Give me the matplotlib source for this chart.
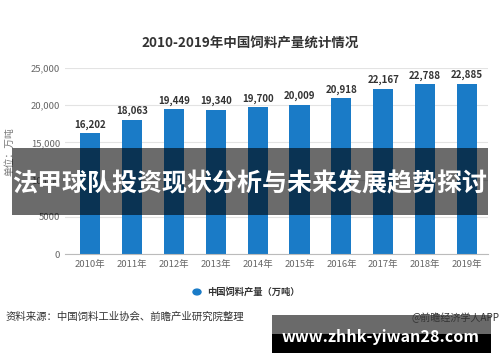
import matplotlib
matplotlib.use("Agg")
import matplotlib.pyplot as plt
from matplotlib.patches import Rectangle
from matplotlib.ticker import FuncFormatter

plt.rcParams["font.family"] = ["Noto Sans CJK SC", "DejaVu Sans"]

years = ["2010年", "2011年", "2012年", "2013年", "2014年",
         "2015年", "2016年", "2017年", "2018年", "2019年"]
output = [16202, 18063, 19449, 19340, 19700, 20009, 20918, 22167, 22788, 22885]
yticks = [0, 5000, 10000, 15000, 20000, 25000]

BAR = "#1a7bc7"
W, H = 500, 362

fig = plt.figure(figsize=(5, 3.62), dpi=100)
fig.patch.set_facecolor("white")

ax = fig.add_axes([65 / W, 1 - 254 / H, (488 - 65) / W, (254 - 68) / H])
x = list(range(len(years)))
bars = ax.bar(x, output, width=0.48, color=BAR, zorder=2)
for b, v in zip(bars, output):
    ax.text(b.get_x() + b.get_width() / 2, v + 500, f"{v:,}", ha="center",
            va="bottom", fontsize=7, fontweight="bold", color="#333333",
            clip_on=False)

ax.set_xlim(-0.6, 9.5)
ax.set_ylim(0, 25000)
ax.set_yticks(yticks)
ax.yaxis.set_major_formatter(
    FuncFormatter(lambda v, _: "5000" if v == 5000 else ("0" if v == 0 else f"{int(v):,}")))
ax.set_xticks(x)
ax.set_xticklabels(years)
ax.tick_params(axis="both", length=0, labelsize=6.8, colors="#666666")
ax.tick_params(axis="x", pad=4)
ax.grid(axis="y", color="#e3e3e3", linewidth=0.8, zorder=0)
for s in ("top", "right", "left"):
    ax.spines[s].set_visible(False)
ax.spines["bottom"].set_color("#bbbbbb")
ax.set_ylabel("单位：万吨", fontsize=7, color="#777777", labelpad=4)
ax.yaxis.set_label_coords(-0.12, 0.55)

fig.text(250 / W, 1 - 43 / H, "2010-2019年中国饲料产量统计情况", ha="center",
         va="center", fontsize=9.7, fontweight="bold", color="#333333")

# legend
fig.patches.append(plt.Circle((197 / W, 1 - 292 / H), 4 / W, transform=fig.transFigure,
                              color=BAR))
fig.text(207 / W, 1 - 292 / H, "中国饲料产量（万吨）", ha="left", va="center",
         fontsize=6.7, fontweight="bold", color="#333333")

fig.text(6 / W, 1 - 317 / H, "资料来源：中国饲料工业协会、前瞻产业研究院整理",
         ha="left", va="center", fontsize=7.5, color="#333333")

# banner overlay
fig.patches.append(Rectangle((12 / W, 1 - 215 / H), 476 / W, 67 / H,
                             transform=fig.transFigure, facecolor="black",
                             alpha=0.58, zorder=5))
fig.text(250 / W, 1 - 184 / H, "法甲球队投资现状分析与未来发展趋势探讨", ha="center",
         va="center", fontsize=18, fontweight="bold", color="white", zorder=6)

# watermark box
fig.patches.append(Rectangle((272 / W, 1 - 334 / H), 219 / W, 19 / H,
                             transform=fig.transFigure, facecolor="#6a6a6a", zorder=5))
fig.patches.append(Rectangle((272 / W, 1 - 353 / H), 219 / W, 19 / H,
                             transform=fig.transFigure, facecolor="black", zorder=5))
fig.text(500 / W, 1 - 318 / H, "@前瞻经济学人APP", ha="right", va="center",
         fontsize=7.2, color="#333333", zorder=7)
fig.text(381 / W, 1 - 337 / H, "www.zhhk-yiwan28.com", ha="center", va="center",
         fontsize=11.6, fontweight="bold", color="white", zorder=7)

fig.savefig("out.png", dpi=100)
